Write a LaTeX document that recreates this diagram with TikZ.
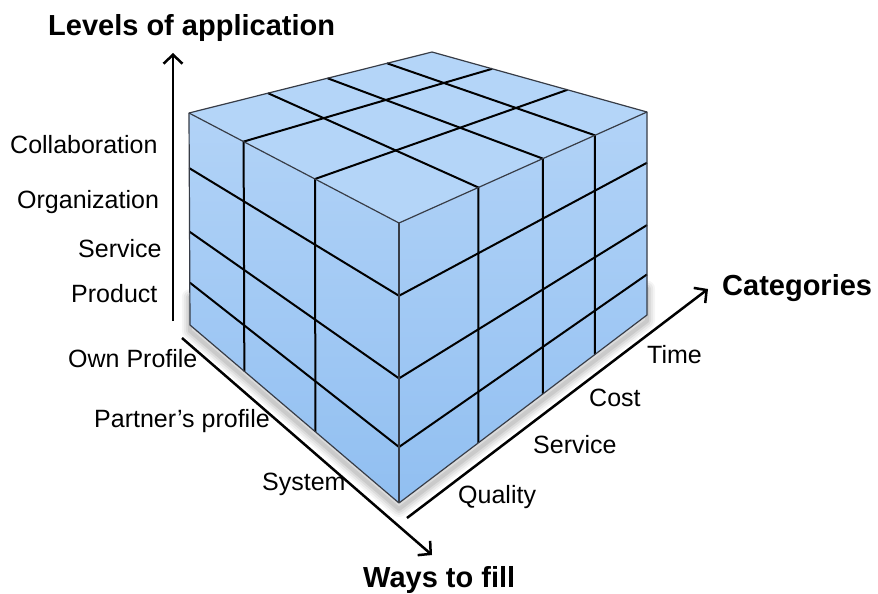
\documentclass[tikz,border=0pt]{standalone}
\usepackage{fontspec}
\setmainfont{Liberation Sans}
\usetikzlibrary{calc,arrows.meta}

\definecolor{cubetop}{RGB}{180,213,248}
\definecolor{cubelight}{RGB}{178,211,247}
\definecolor{cubedark}{RGB}{145,191,241}
\definecolor{cubeedge}{RGB}{55,60,70}

\begin{document}
\begin{tikzpicture}[x = 1pt, y = -1pt,
                    lbl/.style = {anchor = base west, inner sep = 0pt, font = \fontsize{25}{30}\selectfont},
                    heading/.style = {anchor = base west, inner sep = 0pt, font = \fontsize{29}{34}\selectfont\bfseries},
                    axis/.style = {line width = 2.5pt, -{Straight Barb[length = 9pt, width = 19pt]}},
                    gridline/.style = {line width = 2pt, black, line join = round},
                    cubeline/.style = {line width = 1.2pt, cubeedge, line join = round}]

\useasboundingbox (0,0) rectangle (878,594);

% cube corners
\coordinate (B) at (432,52);
\coordinate (L) at (189,113);
\coordinate (F) at (399,223);
\coordinate (R) at (647,112);
\coordinate (LB) at (190,325);
\coordinate (FB) at (399,503);
\coordinate (RB) at (647,315);

% shadow
\foreach \w/\o in {16/0.04, 12/0.05, 8/0.06, 4/0.08}
  \draw[line width = \w pt, black, opacity = \o, line join = round, line cap = round]
    ($(L)!0.85!(LB)+(0,4)$) -- ($(LB)+(0,6)$) -- ($(FB)+(0,6)$) -- ($(RB)+(0,6)$) -- ($(R)!0.85!(RB)+(0,4)$);

% faces
\shade[top color = cubelight, bottom color = cubedark] (L) -- (F) -- (FB) -- (LB) -- cycle;
\shade[top color = cubelight, bottom color = cubedark] (F) -- (R) -- (RB) -- (FB) -- cycle;
\fill[cubetop] (L) -- (B) -- (R) -- (F) -- cycle;

% rows
\draw[gridline] ($(L)!0.26!(LB)$) -- ($(F)!0.26!(FB)$) -- ($(R)!0.25!(RB)$);
\draw[gridline] ($(L)!0.56!(LB)$) -- ($(F)!0.555!(FB)$) -- ($(R)!0.557!(RB)$);
\draw[gridline] ($(L)!0.80!(LB)$) -- ($(F)!0.80!(FB)$) -- ($(R)!0.80!(RB)$);

% left columns
\draw[gridline] ($(LB)!0.26!(FB)$) -- ($(L)!0.26!(F)$) -- ($(B)!0.28!(R)$);
\draw[gridline] ($(LB)!0.60!(FB)$) -- ($(L)!0.60!(F)$) -- ($(B)!0.63!(R)$);

% right columns
\draw[gridline] ($(FB)!0.32!(RB)$) -- ($(F)!0.32!(R)$) -- ($(L)!0.325!(B)$);
\draw[gridline] ($(FB)!0.58!(RB)$) -- ($(F)!0.58!(R)$) -- ($(L)!0.57!(B)$);
\draw[gridline] ($(FB)!0.79!(RB)$) -- ($(F)!0.79!(R)$) -- ($(L)!0.815!(B)$);

% edges
\draw[cubeline] (L) -- (B) -- (R) -- (RB) -- (FB) -- (LB) -- cycle;
\draw[cubeline] (L) -- (F) -- (R);
\draw[cubeline] (F) -- (FB);

% axes
\coordinate (lvltail) at (173,321);
\coordinate (lvltip) at (173,53);
\coordinate (waystail) at (182,338);
\coordinate (waystip) at (432,555);
\coordinate (cattail) at (407,518);
\coordinate (cattip) at (708,289);

\draw[axis] (lvltail) -- (lvltip);
\draw[axis] (waystail) -- (waystip);
\draw[axis] (cattail) -- (cattip);

\node[heading] (lvl) at (48,36) {Levels of application};
\node[heading] (cat) at (722,295) {Categories};
\node[heading] (ways) at (363,587) {Ways to fill};

% levels
\node[lbl] (collab) at (10,153) {Collaboration};
\node[lbl] (org) at (17,208) {Organization};
\node[lbl] (servl) at (78,257) {Service};
\node[lbl] (prod) at (71,302) {Product};

% ways to fill
\node[lbl] (own) at (68,367) {Own Profile};
\node[lbl] (partner) at (94,427) {Partner’s profile};
\node[lbl] (system) at (262,490) {System};

% categories
\node[lbl] (quality) at (458,503) {Quality};
\node[lbl] (servr) at (533,453) {Service};
\node[lbl] (cost) at (589,406) {Cost};
\node[lbl] (time) at (647,363) {Time};

\end{tikzpicture}
\end{document}
